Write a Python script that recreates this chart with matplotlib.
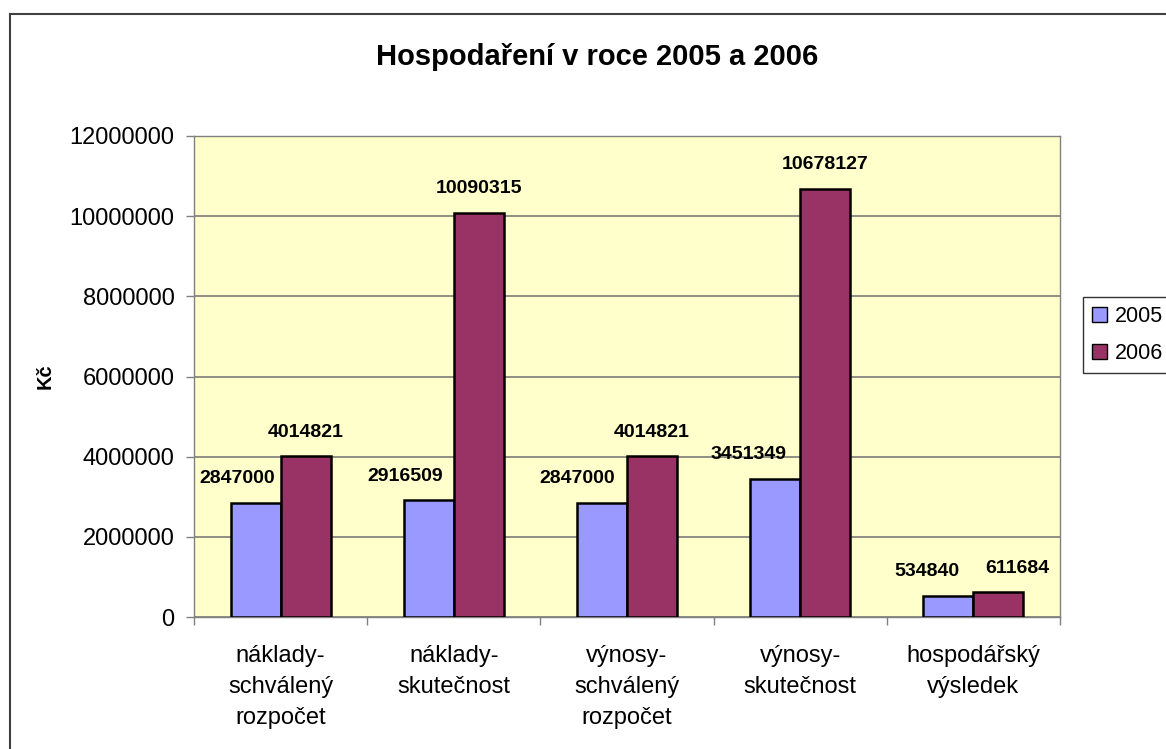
import matplotlib
matplotlib.use("Agg")
import matplotlib.pyplot as plt
from matplotlib.patches import Patch
from matplotlib.lines import Line2D
import numpy as np

plt.rcParams['font.family'] = ['Liberation Sans', 'DejaVu Sans']

categories = ["náklady-\nschválený\nrozpočet", "náklady-\nskutečnost",
              "výnosy-\nschválený\nrozpočet", "výnosy-\nskutečnost",
              "hospodářský\nvýsledek"]
values_2005 = [2847000, 2916509, 2847000, 3451349, 534840]
values_2006 = [4014821, 10090315, 4014821, 10678127, 611684]
series_names = ["2005", "2006"]
yticks = [0, 2000000, 4000000, 6000000, 8000000, 10000000, 12000000]
title = "Hospodaření v roce 2005 a 2006"
ylabel = "Kč"

W, H = 1166, 749
fig = plt.figure(figsize=(W / 100, H / 100), dpi=100)
fig.patch.set_facecolor('white')

ax_l, ax_r, ax_t, ax_b = 194, 1060, 136, 617
ax = fig.add_axes([ax_l / W, 1 - ax_b / H, (ax_r - ax_l) / W, (ax_b - ax_t) / H])
ax.set_facecolor('#FFFFCC')

x = np.arange(len(categories))
bw = 0.289
c1, c2 = '#9999FF', '#993366'
b1 = ax.bar(x - bw / 2, values_2005, bw, color=c1, edgecolor='black', linewidth=1.8, zorder=3)
b2 = ax.bar(x + bw / 2, values_2006, bw, color=c2, edgecolor='black', linewidth=1.8, zorder=3)

ax.set_xlim(-0.5, len(categories) - 0.5)
ax.set_ylim(0, 12000000)
ax.set_yticks(yticks)
ax.set_yticklabels([str(v) for v in yticks], fontsize=17)
ax.yaxis.grid(True, color='#707070', linewidth=1.1, zorder=0)
ax.set_axisbelow(True)

ax.set_xticks(x)
ax.set_xticklabels(categories, fontsize=17, linespacing=1.55)
ax.tick_params(axis='x', which='major', length=0, pad=20)
ax.set_xticks(np.arange(len(categories) + 1) - 0.5, minor=True)
ax.tick_params(axis='x', which='minor', length=6, width=1, color='#808080', direction='out')
ax.tick_params(axis='y', length=6, width=1, color='#808080', direction='out', pad=8)

for s in ax.spines.values():
    s.set_color('#808080')
    s.set_linewidth(1.0)

# data labels
off_2005 = [-18, -24, -25, -27, -21]
off_2006 = [0, 0, 0, 0, 19]
for i, v in enumerate(values_2005):
    ax.annotate(str(v), (x[i] - bw / 2, v), xytext=(off_2005[i] * 0.72, 17.3),
                textcoords='offset points', ha='center', va='center',
                fontsize=14, fontweight='bold', zorder=5)
for i, v in enumerate(values_2006):
    ax.annotate(str(v), (x[i] + bw / 2, v), xytext=(off_2006[i] * 0.72, 17.3),
                textcoords='offset points', ha='center', va='center',
                fontsize=14, fontweight='bold', zorder=5)

fig.text(597 / W, 1 - 57 / H, title, ha='center', va='center',
         fontsize=21, fontweight='bold')
fig.text(45 / W, 1 - 376 / H, ylabel, ha='center', va='center', rotation=90,
         fontsize=14.5, fontweight='bold')

# chart-area border (extends beyond the right/bottom of the image)
fig.add_artist(Line2D([9.5 / W, 9.5 / W], [1 - 14 / H, -0.1], color='#404040', linewidth=1.5,
                      transform=fig.transFigure))
fig.add_artist(Line2D([9.5 / W, 1.1], [1 - 14 / H, 1 - 14 / H], color='#404040', linewidth=1.5,
                      transform=fig.transFigure))

handles = [Patch(facecolor=c1, edgecolor='black', linewidth=1.0),
           Patch(facecolor=c2, edgecolor='black', linewidth=1.0)]
leg = fig.legend(handles, series_names, loc='center left',
                 bbox_to_anchor=(1083 / W, 1 - 335 / H), fontsize=15.5,
                 frameon=True, fancybox=False, edgecolor='black',
                 handlelength=0.7, handleheight=0.7, handletextpad=0.4,
                 borderpad=0.4, labelspacing=0.75, borderaxespad=0)
leg.get_frame().set_linewidth(1.0)

fig.savefig('out.png', dpi=100)
